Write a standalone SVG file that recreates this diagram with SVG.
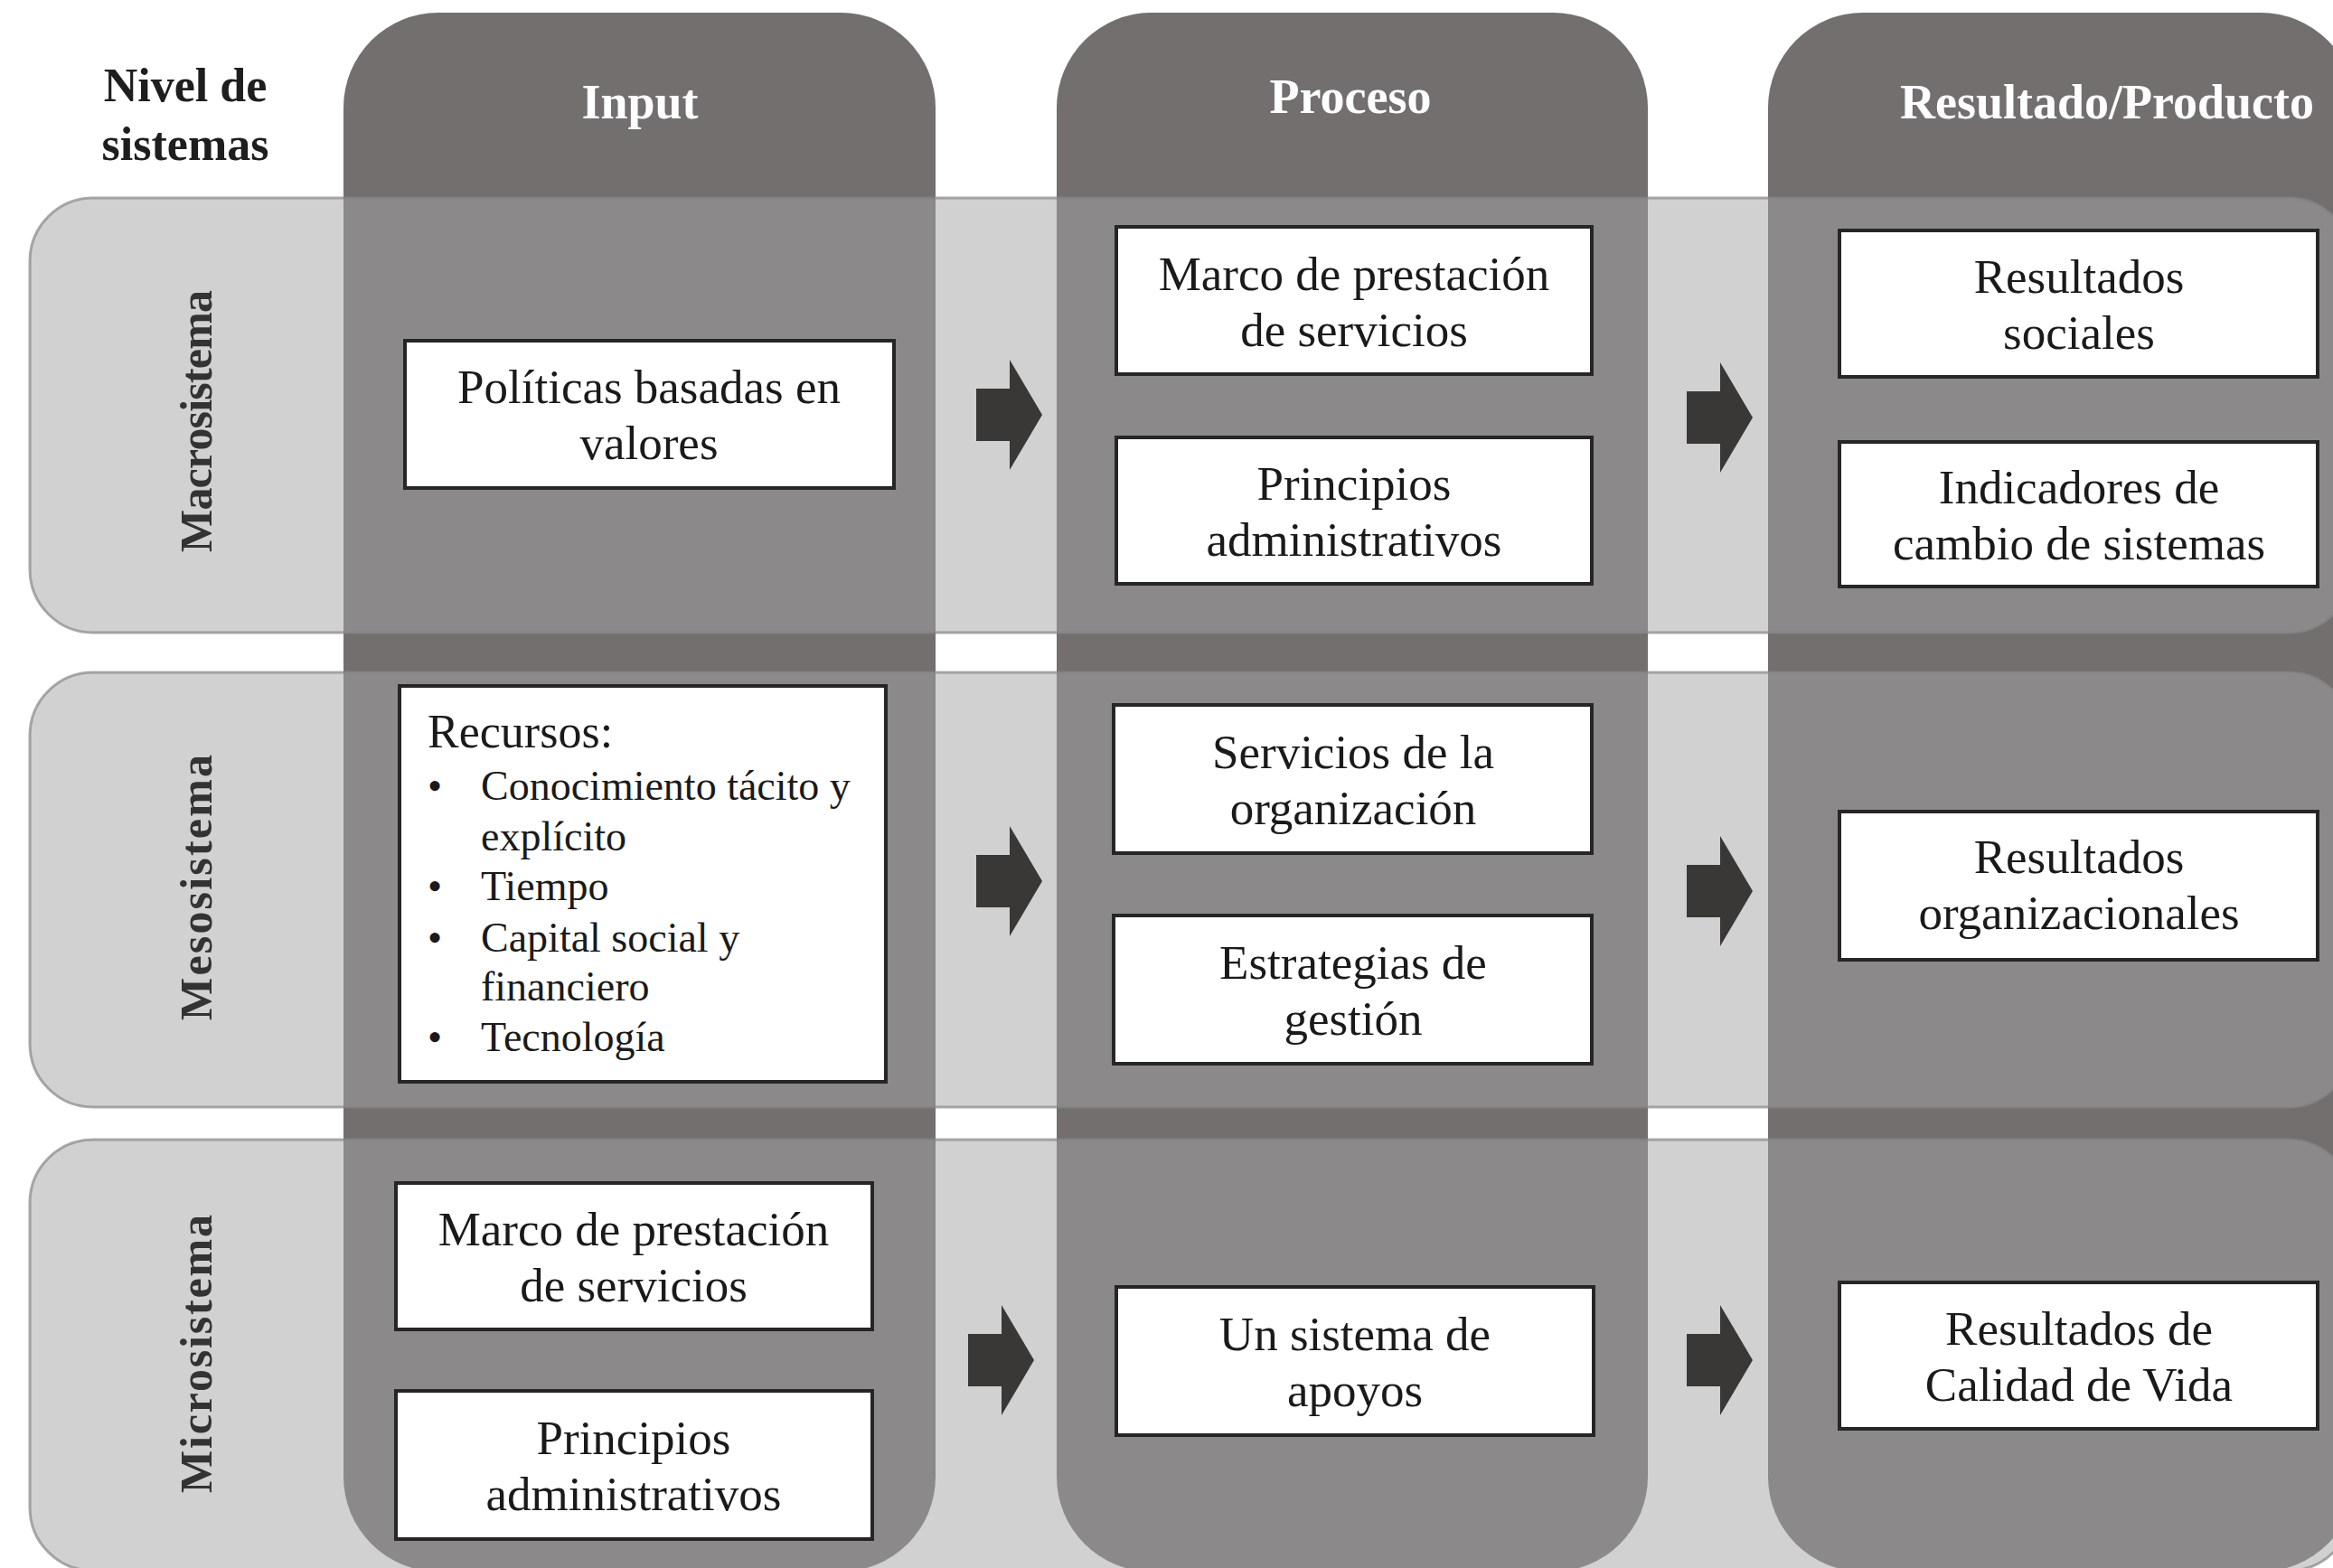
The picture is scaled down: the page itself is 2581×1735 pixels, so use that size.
<svg xmlns="http://www.w3.org/2000/svg" xmlns:xlink="http://www.w3.org/1999/xlink" width="2581" height="1735" viewBox="0 0 2581 1735">
<style>
.col{fill:#736f6f}
.row{fill:#a4a4a4;fill-opacity:0.5;stroke:#888888;stroke-opacity:0.7;stroke-width:3}
.box{fill:#ffffff;stroke:#262626;stroke-width:4}
.t{font-family:"Liberation Serif","Times New Roman",serif;font-size:53px;fill:#1a1a1a;text-anchor:middle}
.hd{font-family:"Liberation Serif","Times New Roman",serif;font-size:54px;font-weight:bold;fill:#ffffff;text-anchor:middle}
.lv{font-family:"Liberation Serif","Times New Roman",serif;font-size:52px;font-weight:bold;fill:#1e1e1e;text-anchor:middle}
.vl{font-family:"Liberation Serif","Times New Roman",serif;font-size:50px;font-weight:bold;fill:#333333;text-anchor:middle}
.rl{font-family:"Liberation Serif","Times New Roman",serif;fill:#1a1a1a}
.arr{fill:#3a3836}
</style>
<defs>
<path id="arrow" class="arr" d="M0,-29 H37 V-61 L73,0 L37,61 V29 H0 Z"/>
</defs>
<rect width="2581" height="1735" fill="#ffffff"/>

<g id="columns">
<g id="col-input"><rect class="col" x="380" y="14" width="655" height="1725" rx="105" ry="105"/></g>
<g id="col-proceso"><rect class="col" x="1169" y="14" width="654" height="1725" rx="105" ry="105"/></g>
<g id="col-resultado"><rect class="col" x="1956" y="14" width="650" height="1725" rx="105" ry="105"/></g>
</g>

<g id="rows">
<g id="row-macro"><rect class="row" x="33" y="219" width="2569" height="481" rx="70" ry="70"/></g>
<g id="row-meso"><rect class="row" x="33" y="744" width="2569" height="481" rx="70" ry="70"/></g>
<g id="row-micro"><rect class="row" x="33" y="1261" width="2569" height="477" rx="70" ry="70"/></g>
</g>

<g id="headers">
<g id="hd-nivel">
<text class="lv" x="205" y="112">Nivel de</text>
<text class="lv" x="205" y="177">sistemas</text>
</g>
<g id="hd-input"><text class="hd" x="708" y="131">Input</text></g>
<g id="hd-proceso"><text class="hd" x="1494" y="125">Proceso</text></g>
<g id="hd-resultado"><text class="hd" x="2331" y="131">Resultado/Producto</text></g>
</g>

<g id="row-labels">
<g id="lbl-macro"><text class="vl" transform="translate(234,466) rotate(-90)" textLength="290">Macrosistema</text></g>
<g id="lbl-meso"><text class="vl" transform="translate(234,982) rotate(-90)" textLength="294">Mesosistema</text></g>
<g id="lbl-micro"><text class="vl" transform="translate(234,1498) rotate(-90)" textLength="308">Microsistema</text></g>
</g>

<g id="connectors">
<use xlink:href="#arrow" href="#arrow" x="1080" y="459"/>
<use xlink:href="#arrow" href="#arrow" x="1866" y="462"/>
<use xlink:href="#arrow" href="#arrow" x="1080" y="975"/>
<use xlink:href="#arrow" href="#arrow" x="1866" y="986"/>
<use xlink:href="#arrow" href="#arrow" x="1071" y="1505"/>
<use xlink:href="#arrow" href="#arrow" x="1866" y="1505"/>
</g>

<g id="nodes">
<g id="n-politicas">
<rect class="box" x="448" y="377" width="541" height="163"/>
<text class="t" x="718" y="446">Políticas basadas en</text>
<text class="t" x="718" y="508">valores</text>
</g>
<g id="n-recursos">
<rect class="box" x="442" y="759" width="538" height="438"/>
<text class="rl" x="473" y="827" font-size="52">Recursos:</text>
<text class="rl" x="481" y="885" font-size="46" text-anchor="middle">•</text>
<text class="rl" x="532" y="885" font-size="46">Conocimiento tácito y</text>
<text class="rl" x="532" y="941" font-size="46">explícito</text>
<text class="rl" x="481" y="996" font-size="46" text-anchor="middle">•</text>
<text class="rl" x="532" y="996" font-size="46">Tiempo</text>
<text class="rl" x="481" y="1053" font-size="46" text-anchor="middle">•</text>
<text class="rl" x="532" y="1053" font-size="46">Capital social y</text>
<text class="rl" x="532" y="1107" font-size="46">financiero</text>
<text class="rl" x="481" y="1163" font-size="46" text-anchor="middle">•</text>
<text class="rl" x="532" y="1163" font-size="46">Tecnología</text>
</g>
<g id="n-micro-marco">
<rect class="box" x="438" y="1309" width="527" height="162"/>
<text class="t" x="701" y="1378">Marco de prestación</text>
<text class="t" x="701" y="1440">de servicios</text>
</g>
<g id="n-micro-principios">
<rect class="box" x="438" y="1539" width="527" height="164"/>
<text class="t" x="701" y="1609">Principios</text>
<text class="t" x="701" y="1671">administrativos</text>
</g>
<g id="n-proc-marco">
<rect class="box" x="1235" y="251" width="526" height="163"/>
<text class="t" x="1498" y="321">Marco de prestación</text>
<text class="t" x="1498" y="383">de servicios</text>
</g>
<g id="n-proc-principios">
<rect class="box" x="1235" y="484" width="526" height="162"/>
<text class="t" x="1498" y="553">Principios</text>
<text class="t" x="1498" y="615">administrativos</text>
</g>
<g id="n-servicios">
<rect class="box" x="1232" y="780" width="529" height="164"/>
<text class="t" x="1497" y="850">Servicios de la</text>
<text class="t" x="1497" y="912">organización</text>
</g>
<g id="n-estrategias">
<rect class="box" x="1232" y="1013" width="529" height="164"/>
<text class="t" x="1497" y="1083">Estrategias de</text>
<text class="t" x="1497" y="1145">gestión</text>
</g>
<g id="n-apoyos">
<rect class="box" x="1235" y="1424" width="528" height="164"/>
<text class="t" x="1499" y="1494">Un sistema de</text>
<text class="t" x="1499" y="1556">apoyos</text>
</g>
<g id="n-sociales">
<rect class="box" x="2035" y="255" width="529" height="162"/>
<text class="t" x="2300" y="324">Resultados</text>
<text class="t" x="2300" y="386">sociales</text>
</g>
<g id="n-indicadores">
<rect class="box" x="2035" y="489" width="529" height="160"/>
<text class="t" x="2300" y="557">Indicadores de</text>
<text class="t" x="2300" y="619">cambio de sistemas</text>
</g>
<g id="n-organizacionales">
<rect class="box" x="2035" y="898" width="529" height="164"/>
<text class="t" x="2300" y="966">Resultados</text>
<text class="t" x="2300" y="1028">organizacionales</text>
</g>
<g id="n-calidad">
<rect class="box" x="2035" y="1419" width="529" height="162"/>
<text class="t" x="2300" y="1488">Resultados de</text>
<text class="t" x="2300" y="1550">Calidad de Vida</text>
</g>
</g>
</svg>
